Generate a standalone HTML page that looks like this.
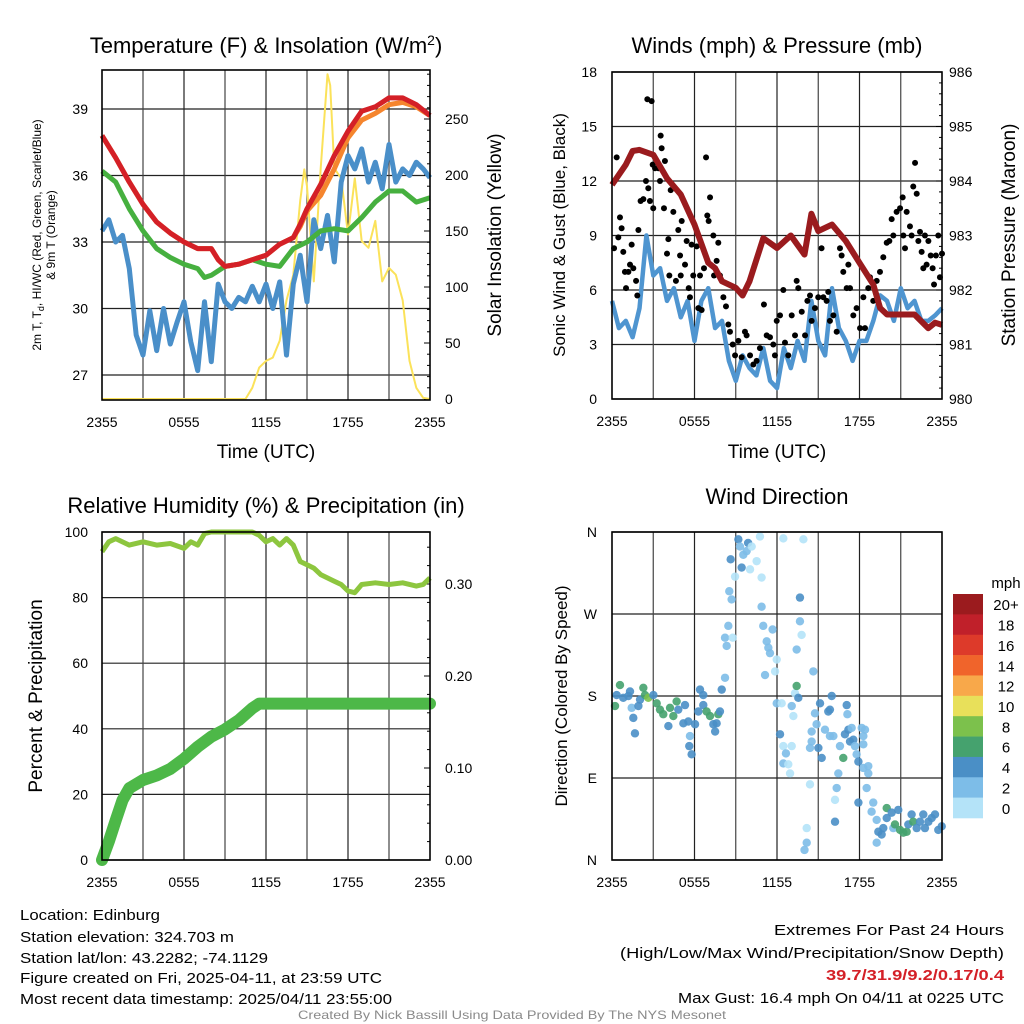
<!DOCTYPE html>
<html><head><meta charset="utf-8"><style>
html,body{margin:0;padding:0;background:#fff;}
svg{display:block;font-family:"Liberation Sans",Arial,sans-serif;}
</style></head><body>
<svg id="c" width="1024" height="1024" viewBox="0 0 1024 1024"></svg>
<script>
// ---------- Data ----------
const hrs = [0,1,2,3,4,5,6,7,8,8.5,9,10,11,12,13,14,14.5,15,16,17,18,19,20,21,22,23,24];
const tempRed = [37.8,36.8,35.7,34.7,33.9,33.4,33.0,32.7,32.7,32.2,31.9,32.0,32.2,32.4,32.9,33.2,33.8,34.5,35.6,36.9,38.0,38.9,39.1,39.5,39.5,39.2,38.7];
const tempOrange = [37.8,36.8,35.7,34.7,33.9,33.4,33.0,32.7,32.7,32.2,31.9,32.0,32.2,32.4,32.9,33.2,33.7,34.4,35.1,36.3,37.7,38.5,38.8,39.2,39.3,39.1,38.7];
const greenHrs = [0,1,2,3,4,5,6,7,7.5,8,9,10,11,12,13,14,15,16,17,18,19,20,21,22,23,24];
const tempGreen = [36.2,35.7,34.5,33.5,32.7,32.3,32.0,31.8,31.4,31.5,31.9,32.0,32.2,32.0,31.9,32.7,33.0,33.5,33.6,33.5,34.1,34.8,35.3,35.3,34.8,35.0];
const halfHrs = [0,0.5,1,1.5,2,2.5,3,3.5,4,4.5,5,5.5,6,6.5,7,7.5,8,8.5,9,9.5,10,10.5,11,11.5,12,12.5,13,13.5,14,14.5,15,15.5,16,16.5,17,17.5,18,18.5,19,19.5,20,20.5,21,21.5,22,22.5,23,23.5,24];
const dewBlue = [33.5,34.0,33.0,33.3,31.8,28.8,27.9,29.9,28.1,30.0,28.4,29.4,30.3,28.5,27.2,30.3,27.6,31.1,30.3,30.0,30.5,30.3,31.0,30.3,31.1,30.0,31.2,27.9,31.1,32.4,30.3,34.0,32.7,34.2,32.1,35.7,36.9,36.3,37.2,35.7,36.6,35.4,37.4,35.7,36.3,36.0,36.6,36.3,35.9];
const solarHrs = [0,10.5,11,11.5,12,12.5,13,13.5,14,14.5,14.8,15,15.5,16,16.5,16.7,17,17.5,18,18.5,19,19.5,20,20.5,21,21.5,22,22.5,23,23.5,24];
const solar = [0,0,10,28,34,37,52,88,111,177,205,190,105,206,290,280,206,197,147,197,141,135,159,105,117,111,88,34,10,1,0];

const windHrs = halfHrs;
const windSpeed = [5.4,3.9,4.3,3.4,5.0,9.0,6.8,7.2,5.4,6.1,4.5,5.4,3.2,5.4,6.1,3.9,4.3,2.1,1.0,2.4,1.7,1.3,2.8,1.0,0.6,2.8,1.7,3.2,2.1,5.4,3.2,2.4,6.1,3.9,3.2,2.1,3.2,3.2,4.3,5.7,5.4,4.3,6.1,5.0,5.4,4.3,4.3,4.6,5.0];
const presHrs = [0,1,1.5,2,3,4,5,6,7,7.5,8,9,9.5,10,11,12,13,14,14.5,15,16,17,18,19,19.5,20,21,22,23,23.5,24];
const pressure = [983.93,984.3,984.55,984.57,984.48,984.05,983.75,983.2,982.5,982.4,982.16,982.04,981.9,982.16,982.95,982.77,983.0,982.65,983.4,983.08,983.2,982.9,982.5,982.1,981.67,981.55,981.55,981.55,981.3,981.4,981.36];
const gustHrs = [0.15,0.34,0.46,0.58,0.7,0.82,0.94,1.02,1.19,1.31,1.43,1.55,1.75,1.84,1.92,2.08,2.28,2.47,2.57,2.88,2.64,2.76,3.0,2.96,3.13,3.37,3.49,3.54,3.61,3.78,3.85,4.1,4.17,4.0,4.27,4.46,4.65,4.82,4.95,5.07,5.0,5.31,5.43,5.58,5.67,5.79,5.91,6.16,6.28,6.4,6.52,6.69,6.84,6.93,7.03,7.13,7.37,7.42,7.61,7.73,7.85,8.1,8.29,8.46,8.58,8.78,8.95,9.19,9.43,9.67,9.79,10.04,10.28,10.52,10.76,11.05,11.25,11.49,11.73,11.85,11.98,12.22,12.46,12.58,12.82,13.07,13.31,13.43,13.55,13.8,14.04,14.21,14.4,14.52,14.76,15.0,15.24,15.37,15.61,15.73,15.85,16.1,16.34,16.58,16.7,16.82,17.07,17.19,17.31,17.55,17.79,18.04,18.28,18.4,18.64,18.76,19.0,19.25,19.49,19.73,19.98,20.17,20.34,20.46,20.7,20.95,21.14,21.19,21.31,21.43,21.67,21.79,21.91,22.04,22.16,22.28,22.4,22.52,22.64,22.76,22.88,23.01,23.18,23.32,23.42,23.56,23.73,23.85,24.0];
const gustSpeed = [8.3,13.3,8.9,10.0,9.4,8.1,7.0,6.1,7.0,7.4,8.5,7.2,6.5,5.7,9.3,10.9,11.0,12.0,16.5,16.4,11.6,10.9,10.5,12.9,12.7,12.7,12.0,14.5,13.8,10.5,13.1,8.8,6.8,8.0,11.5,10.3,6.5,9.3,7.9,9.8,6.8,7.4,8.7,6.1,5.6,8.5,6.8,8.4,5.0,6.8,4.9,7.2,13.3,10.1,9.8,11.1,9.0,6.8,7.6,8.6,6.8,5.6,5.1,4.1,3.7,3.0,2.4,3.2,2.3,3.7,3.5,2.4,1.9,2.1,2.8,5.2,3.5,3.4,3.0,2.4,4.3,4.6,6.0,3.1,2.4,4.6,3.5,6.5,6.1,4.8,3.5,5.4,5.7,4.3,5.0,5.6,8.3,5.6,5.4,5.9,4.3,4.6,3.7,8.3,7.9,7.0,6.1,7.4,6.1,4.6,5.0,3.9,5.6,3.9,6.1,6.7,5.4,6.5,7.0,7.8,8.6,8.7,9.9,9.0,10.3,10.5,11.1,9.0,8.3,10.3,9.5,9.0,11.7,13.0,11.3,8.7,9.2,8.1,7.2,9.0,7.4,8.7,7.9,7.2,6.3,7.9,9.0,6.7,8.0];

const rhHrs = [0,0.5,1,2,3,4,5,6,6.5,7,7.5,8,9,10,11,11.5,12,12.5,13,13.5,14,14.5,15,15.5,16,17,17.5,18,18.5,19,20,21,22,23,23.5,24];
const rh = [94,97,98,96,97,96,96.5,95,97,96,99.5,100,100,100,100,99,97,98,96,98,96,91,90,89,87,85,84,82,81.5,84,84.5,84,84.5,83.5,84,86];
const precipHrs = [0,0.5,1,1.5,2,3,4,5,6,7,8,9,10,11,11.5,24];
const precip = [0,0.02,0.043,0.065,0.078,0.087,0.092,0.099,0.11,0.123,0.134,0.142,0.152,0.165,0.17,0.17];

const dirHrs = [0.22,0.34,0.58,0.82,1.19,1.31,1.55,1.67,1.43,1.92,2.04,2.28,2.4,2.64,3.01,3.25,3.49,3.73,4.1,4.22,4.46,4.7,4.82,5.31,5.19,5.55,5.67,5.62,5.79,6.04,6.28,6.4,6.64,6.64,6.88,7.13,7.37,7.5,7.61,7.73,7.85,7.98,8.22,8.22,8.34,8.46,8.78,8.53,8.7,8.63,8.95,9.19,9.31,9.43,9.55,9.79,9.9,10.16,10.04,10.52,10.76,10.88,10.88,11.0,11.25,11.37,11.49,11.68,11.98,11.13,11.86,11.98,12.34,12.22,12.46,12.46,12.65,12.82,12.95,13.07,13.19,13.07,13.31,13.43,13.55,12.46,13.92,13.67,13.67,13.79,13.43,14.64,14.4,14.16,14.16,14.0,14.76,14.88,14.52,14.52,14.4,15.01,15.25,15.13,15.49,15.85,15.73,15.85,15.98,16.1,16.46,16.34,16.22,16.22,16.58,16.82,16.94,17.07,17.12,17.19,17.31,17.43,17.55,17.67,17.79,17.92,17.92,18.16,18.28,18.4,18.28,18.28,18.52,18.64,18.64,19.0,18.88,19.25,19.37,19.25,19.61,19.73,19.98,19.98,20.34,20.46,20.58,20.82,20.95,21.19,21.43,21.55,21.79,21.91,22.16,22.4,22.64,22.76,23.01,23.25,23.49,23.73,23.98];
const dirDeg = [169,181,192,178,180,185,156,139,167,169,176,189,181,178,181,172,165,160,147,167,158,174,165,170,150,152,136,125,116,149,163,187,181,170,163,158,149,141,150,160,163,187,200,244,235,257,244,295,286,330,311,352,344,321,335,339,348,344,319,328,355,310,278,257,240,233,227,253,220,203,207,172,172,138,125,106,117,105,95,169,158,125,183,191,178,353,352,288,262,247,231,207,83,35,19,11,161,149,141,130,123,123,112,172,143,136,163,165,180,136,95,79,66,42,125,112,138,170,160,143,130,145,132,125,116,108,63,145,136,143,127,101,79,103,95,63,53,44,31,19,28,35,57,46,52,35,39,55,33,30,31,39,50,42,35,42,50,35,42,46,50,33,37];
const dirSpeed = [7,5,7,5,5,5,5,5,3,5,5,7,7,9,5,7,7,7,5,7,7,7,5,5,5,5,3,5,5,5,5,5,5,5,7,7,5,5,5,7,5,5,3,3,3,3,1,3,3,5,1,5,3,5,3,3,5,1,1,1,1,1,3,3,3,3,3,3,1,3,1,3,1,5,1,3,3,1,1,3,1,1,1,7,5,1,1,5,3,1,3,3,1,1,3,3,3,3,3,3,3,5,5,5,3,3,5,5,5,3,3,3,1,5,3,7,5,5,3,5,5,3,5,3,3,5,5,3,3,3,3,3,3,3,3,3,3,3,5,3,5,5,7,5,5,3,7,5,7,7,7,5,5,7,5,5,5,5,5,5,5,5,5];

const cbLabels = ["20+","18","16","14","12","10","8","6","4","2","0"];
const cbColors = ["#9b1b1e","#c0202a","#dd3a2a","#f0642b","#f8a84a","#e8e05a","#7cc14c","#45a26e","#4a8fc6","#7dbde8","#b4e3f8"];

// ---------- helpers ----------
const NS="http://www.w3.org/2000/svg";
const svg=document.getElementById('c');
function mk(tag,attrs,parent){const e=document.createElementNS(NS,tag);for(const k in attrs)e.setAttribute(k,attrs[k]);(parent||svg).appendChild(e);return e;}
function txt(s,x,y,size,anchor,extra,parent){const t=mk('text',Object.assign({x:x,y:y,'font-size':size,'text-anchor':anchor||'start',fill:'#000'},extra||{}),parent);t.textContent=s;return t;}
function scale(d0,d1,r0,r1){return v=>r0+(v-d0)*(r1-r0)/(d1-d0);}
function pathD(xs,ys,fx,fy){return xs.map((h,i)=>(i?'L':'M')+fx(h).toFixed(1)+','+fy(ys[i]).toFixed(1)).join('');}
const xTicks=["2355","0555","1155","1755","2355"];

function frame(g,x0,x1,y0,y1){
  for(let k=1;k<8;k++){const x=x0+(x1-x0)*k/8;mk('line',{x1:x,x2:x,y1:y0,y2:y1,stroke:k%2?'#444':'#222','stroke-width':1.2},g);}
  xTicks.forEach((s,i)=>{const x=x0+(x1-x0)*i/4;const t=txt(s,x,y1+27,14,'middle',{},g);});
}
function border(g,x0,x1,y0,y1){mk('rect',{x:x0,y:y0,width:x1-x0,height:y1-y0,fill:'none',stroke:'#000','stroke-width':1.6},g);}

// ---------- Panel 1 ----------
(function(){
  const g=mk('g',{});
  const X0=102,X1=430,Y0=70,Y1=400;
  const fx=scale(0,24,X0,X1), fy=scale(27,39,375,109), fs=scale(0,250,399,119);
  [27,30,33,36,39].forEach(v=>{mk('line',{x1:X0,x2:X1,y1:fy(v),y2:fy(v),stroke:'#222','stroke-width':1.2},g);const t=txt(String(v),88,fy(v)+5,14,'end',{},g);});
  [0,50,100,150,200,250].forEach(v=>{const t=txt(String(v),445,fs(v)+5,14,'start',{},g);mk('line',{x1:X1,x2:X1-6,y1:fs(v),y2:fs(v),stroke:'#000'},g);});
  for(let v=0;v<=290;v+=10)mk('line',{x1:X1,x2:X1-3,y1:fs(v),y2:fs(v),stroke:'#000'},g);
  frame(g,X0,X1,Y0,Y1);
  const ys=mk('path',{d:pathD(solarHrs,solar,fx,fs),fill:'none',stroke:'#fbe25a','stroke-width':2,'stroke-linejoin':'round'},g);
  const bl=mk('path',{d:pathD(halfHrs,dewBlue,fx,fy),fill:'none',stroke:'#4a8fc9','stroke-width':5,'stroke-linejoin':'round'},g);
  const gr=mk('path',{d:pathD(greenHrs,tempGreen,fx,fy),fill:'none',stroke:'#46b03f','stroke-width':5,'stroke-linejoin':'round'},g);
  const or=mk('path',{d:pathD(hrs,tempOrange,fx,fy),fill:'none',stroke:'#f5852e','stroke-width':5,'stroke-linejoin':'round'},g);
  const rd=mk('path',{d:pathD(hrs,tempRed,fx,fy),fill:'none',stroke:'#d42027','stroke-width':5,'stroke-linejoin':'round'},g);
  border(g,X0,X1,Y0,Y1);
  const ti=mk('text',{x:266,y:53,'font-size':22,'text-anchor':'middle'},g);ti.innerHTML='Temperature (F) &amp; Insolation (W/m<tspan dy="-8" font-size="14">2</tspan><tspan dy="8">)</tspan>';
  const yl=mk('text',{x:0,y:0,'font-size':12,'text-anchor':'middle',transform:'translate(41,235) rotate(-90)'},g);yl.innerHTML='2m T, T<tspan dy="3" font-size="9">d</tspan><tspan dy="-3">, HI/WC (Red, Green, Scarlet/Blue)</tspan>';
  const yl2=txt('& 9m T (Orange)',0,0,12,'middle',{transform:'translate(55,235) rotate(-90)'},g);
  const yr=txt('Solar Insolation (Yellow)',0,0,19,'middle',{transform:'translate(501,235) rotate(-90)'},g);
  const xt=txt('Time (UTC)',266,458,19,'middle',{},g);
})();

// ---------- Panel 2 ----------
(function(){
  const g=mk('g',{});
  const X0=612,X1=942,Y0=72,Y1=399;
  const fx=scale(0,24,X0,X1), fy=scale(0,18,Y1,Y0), fp=scale(980,986,Y1,Y0);
  [0,3,6,9,12,15,18].forEach(v=>{mk('line',{x1:X0,x2:X1,y1:fy(v),y2:fy(v),stroke:'#222','stroke-width':1.2},g);const t=txt(String(v),597,fy(v)+5,14,'end',{},g);});
  [980,981,982,983,984,985,986].forEach(v=>{const t=txt(String(v),949,fp(v)+5,14,'start',{},g);mk('line',{x1:X1,x2:X1-6,y1:fp(v),y2:fp(v),stroke:'#000'},g);});
  for(let v=980;v<=986;v+=0.2)mk('line',{x1:X1,x2:X1-3,y1:fp(v),y2:fp(v),stroke:'#000'},g);
  frame(g,X0,X1,Y0,Y1);
  const wl=mk('path',{d:pathD(windHrs,windSpeed,fx,fy),fill:'none',stroke:'#4f95d0','stroke-width':4.5,'stroke-linejoin':'round'},g);
  gustHrs.forEach((h,i)=>{const c=mk('circle',{cx:fx(h),cy:fy(gustSpeed[i]),r:3,fill:'#000'},g);});
  const pl=mk('path',{d:pathD(presHrs,pressure,fx,fp),fill:'none',stroke:'#9a1b1e','stroke-width':6,'stroke-linejoin':'round'},g);
  border(g,X0,X1,Y0,Y1);
  const ti=txt('Winds (mph) & Pressure (mb)',777,53,22,'middle',{},g);
  const yl=txt('Sonic Wind & Gust (Blue, Black)',0,0,17,'middle',{transform:'translate(565,235) rotate(-90)'},g);
  const yr=txt('Station Pressure (Maroon)',0,0,19,'middle',{transform:'translate(1015,235) rotate(-90)'},g);
  const xt=txt('Time (UTC)',777,458,19,'middle',{},g);
})();

// ---------- Panel 3 ----------
(function(){
  const g=mk('g',{});
  const X0=102,X1=430,Y0=532,Y1=860;
  const fx=scale(0,24,X0,X1), fy=scale(0,100,Y1,Y0), fi=scale(0,0.1,Y1,768);
  [0,20,40,60,80,100].forEach(v=>{mk('line',{x1:X0,x2:X1,y1:fy(v),y2:fy(v),stroke:'#222','stroke-width':1.2},g);const t=txt(String(v),88,fy(v)+5,14,'end',{},g);});
  ["0.00","0.10","0.20","0.30"].forEach(s=>{const v=parseFloat(s);const t=txt(s,445,fi(v)+5,14,'start',{},g);mk('line',{x1:X1,x2:X1-6,y1:fi(v),y2:fi(v),stroke:'#000'},g);});
  for(let v=0;v<=0.35;v+=0.02)mk('line',{x1:X1,x2:X1-3,y1:fi(v),y2:fi(v),stroke:'#000'},g);
  frame(g,X0,X1,Y0,Y1);
  const pr=mk('path',{d:pathD(precipHrs,precip,fx,fi),fill:'none',stroke:'#4db848','stroke-width':12,'stroke-linejoin':'round','stroke-linecap':'round'},g);
  const rl=mk('path',{d:pathD(rhHrs,rh,fx,fy),fill:'none',stroke:'#8dc63f','stroke-width':5,'stroke-linejoin':'round'},g);
  border(g,X0,X1,Y0,Y1);
  const ti=txt('Relative Humidity (%) & Precipitation (in)',266,513,22,'middle',{},g);
  const yl=txt('Percent & Precipitation',0,0,19,'middle',{transform:'translate(42,696) rotate(-90)'},g);
})();

// ---------- Panel 4 ----------
(function(){
  const g=mk('g',{});
  const X0=612,X1=942,Y0=532,Y1=860;
  const fx=scale(0,24,X0,X1), fy=scale(0,360,Y1,Y0);
  const dl=[["N",0],["E",90],["S",180],["W",270],["N",360]];
  dl.forEach(d=>{mk('line',{x1:X0,x2:X1,y1:fy(d[1]),y2:fy(d[1]),stroke:'#222','stroke-width':1.2},g);const t=txt(d[0],597,fy(d[1])+5,14,'end',{},g);});
  frame(g,X0,X1,Y0,Y1);
  dirHrs.forEach((h,i)=>{const idx=Math.max(0,Math.min(10,10-Math.floor(dirSpeed[i]/2)));const c=mk('circle',{cx:fx(h),cy:fy(dirDeg[i]),r:4.2,fill:cbColors[idx],'fill-opacity':0.9},g);});
  border(g,X0,X1,Y0,Y1);
  const ti=txt('Wind Direction',777,504,22,'middle',{},g);
  const yl=txt('Direction (Colored By Speed)',0,0,17,'middle',{transform:'translate(567,696) rotate(-90)'},g);
  const cb=mk('g',{},g);
  const bh=(818-594)/cbLabels.length;
  cbLabels.forEach((s,i)=>{const r=mk('rect',{x:953,y:594+i*bh,width:30,height:bh+0.3,fill:cbColors[i]},cb);const t=txt(s,1006,594+i*bh+bh/2+6,15,'middle',{},cb);});
  const u=txt('mph',1006,588,15,'middle',{},cb);
})();

// ---------- Footer ----------
(function(){
  const g=mk('g',{});
  const L=[["Location: Edinburg",920,140],["Station elevation: 324.703 m",942,214],["Station lat/lon: 43.2282; -74.1129",963,248],["Figure created on Fri, 2025-04-11, at 23:59 UTC",983,362],["Most recent data timestamp: 2025/04/11 23:55:00",1004,372]];
  L.forEach(l=>{const t=txt(l[0],20,l[1],15,'start',{textLength:l[2],lengthAdjust:'spacingAndGlyphs'},g);});
  const R=[["Extremes For Past 24 Hours",935,230,'#000','normal'],["(High/Low/Max Wind/Precipitation/Snow Depth)",958,384,'#000','normal'],["39.7/31.9/9.2/0.17/0.4",980,178,'#d42027','bold'],["Max Gust: 16.4 mph On 04/11 at 0225 UTC",1003,326,'#000','normal']];
  R.forEach(r=>{const t=txt(r[0],1004,r[1],15,'end',{textLength:r[2],lengthAdjust:'spacingAndGlyphs',fill:r[3],'font-weight':r[4]},g);});
  const cr=txt('Created By Nick Bassill Using Data Provided By The NYS Mesonet',512,1019,12,'middle',{fill:'#8a8a8a',textLength:428,lengthAdjust:'spacingAndGlyphs'},g);
})();
</script>
</body></html>
